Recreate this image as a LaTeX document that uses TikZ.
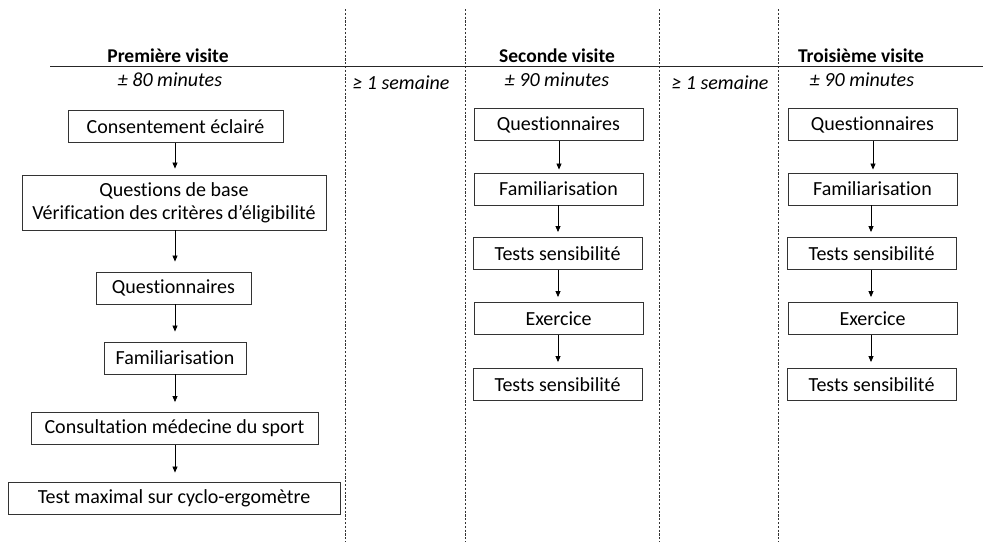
\documentclass[tikz,border=0pt]{standalone}
\usepackage{fontspec}
\setmainfont[Ligatures={NoCommon}]{Carlito}
\usetikzlibrary{arrows.meta}
\begin{document}
\begin{tikzpicture}[x=1pt,y=-1pt,
  box/.style={draw=black!80,line width=0.9pt,inner sep=0pt,minimum height=32pt,font=\fontsize{20}{23}\selectfont},
  conn/.style={draw=black,line width=0.8pt,-{Triangle[width=5pt,length=6pt]}},
  sep/.style={draw=black!80,line width=0.9pt,dash pattern=on 2.2pt off 1.6pt},
  head/.style={font=\fontsize{19.5}{22}\selectfont\bfseries},
  sub/.style={font=\fontsize{20}{23}\selectfont\itshape}]
\useasboundingbox (0,0) rectangle (983,542);
% separators
\coordinate (s1t) at (345.5,9); \coordinate (s1b) at (345.5,542);
\coordinate (s2t) at (465,9); \coordinate (s2b) at (465,542);
\coordinate (s3t) at (659,9); \coordinate (s3b) at (659,542);
\coordinate (s4t) at (778,9); \coordinate (s4b) at (778,542);
\draw[sep] (s1t) -- (s1b);
\draw[sep] (s2t) -- (s2b);
\draw[sep] (s3t) -- (s3b);
\draw[sep] (s4t) -- (s4b);
\coordinate (hl) at (50,66.5); \coordinate (hr) at (983,66.5);
\draw[draw=black!85,line width=1pt] (hl) -- (hr);
% headers
\node[head] (h1) at (168,56) {Première visite};
\node[head] (h2) at (557,56) {Seconde visite};
\node[head] (h3) at (861,56) {Troisième visite};
\node[sub] (d1) at (170,80) {± 80 minutes};
\node[sub] (g1) at (401,83) {≥ 1 semaine};
\node[sub] (d2) at (557,80) {± 90 minutes};
\node[sub] (g2) at (720,83) {≥ 1 semaine};
\node[sub] (d3) at (862,80) {± 90 minutes};
% left column
\node[box,minimum width=215pt] (a1) at (175.5,126.5) {Consentement éclairé};
\node[box,minimum width=304pt,minimum height=55pt,align=center] (a2) at (174,202.5) {Questions de base\\Vérification des critères d’éligibilité};
\node[box,minimum width=155pt] (a3) at (173.5,288) {Questionnaires};
\node[box,minimum width=142pt] (a4) at (175,358) {Familiarisation};
\node[box,minimum width=287pt] (a5) at (174.5,428.5) {Consultation médecine du sport};
\node[box,minimum width=332pt] (a6) at (174,498) {Test maximal sur cyclo-ergomètre};
\draw[conn,shorten >=6pt] (a1.south -| 175,0) -- (a2.north -| 175,0);
\draw[conn,shorten >=10pt] (a2.south -| 175,0) -- (a3.north -| 175,0);
\draw[conn,shorten >=10pt] (a3.south -| 175,0) -- (a4.north -| 175,0);
\draw[conn,shorten >=10pt] (a4.south -| 175,0) -- (a5.north -| 175,0);
\draw[conn,shorten >=9pt] (a5.south -| 175,0) -- (a6.north -| 175,0);
% middle column
\node[box,minimum width=169pt] (b1) at (558.5,124.5) {Questionnaires};
\node[box,minimum width=169pt] (b2) at (558.5,189) {Familiarisation};
\node[box,minimum width=169pt] (b3) at (557.5,253.5) {Tests sensibilité};
\node[box,minimum width=169pt] (b4) at (558.5,318.5) {Exercice};
\node[box,minimum width=169pt] (b5) at (557.5,384.5) {Tests sensibilité};
\draw[conn,shorten >=3pt] (b1.south -| 559,0) -- (b2.north -| 559,0);
\draw[conn,shorten >=5pt] (b2.south -| 558,0) -- (b3.north -| 558,0);
\draw[conn,shorten >=5pt] (b3.south -| 558,0) -- (b4.north -| 558,0);
\draw[conn,shorten >=6pt] (b4.south -| 558,0) -- (b5.north -| 558,0);
% right column
\node[box,minimum width=169pt] (c1) at (872.5,124.5) {Questionnaires};
\node[box,minimum width=169pt] (c2) at (872.5,189) {Familiarisation};
\node[box,minimum width=169pt] (c3) at (871.5,253.5) {Tests sensibilité};
\node[box,minimum width=169pt] (c4) at (872.5,318.5) {Exercice};
\node[box,minimum width=169pt] (c5) at (871.5,384.5) {Tests sensibilité};
\draw[conn,shorten >=3pt] (c1.south -| 873,0) -- (c2.north -| 873,0);
\draw[conn,shorten >=5pt] (c2.south -| 871,0) -- (c3.north -| 871,0);
\draw[conn,shorten >=5pt] (c3.south -| 871,0) -- (c4.north -| 871,0);
\draw[conn,shorten >=6pt] (c4.south -| 871,0) -- (c5.north -| 871,0);
\end{tikzpicture}
\end{document}
